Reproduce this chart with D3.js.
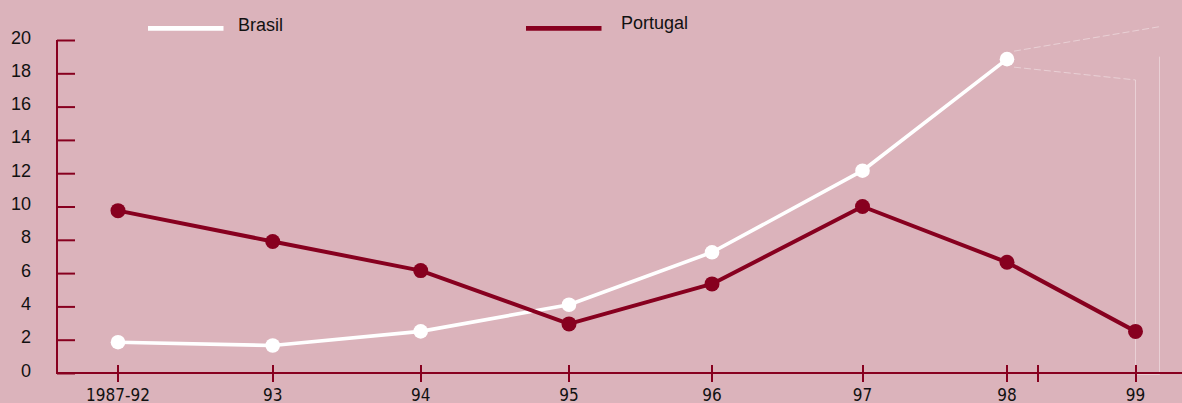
<!DOCTYPE html>
<html>
<head>
<meta charset="utf-8">
<script src="https://cdn.jsdelivr.net/npm/d3@7/dist/d3.min.js"></script>
<style>
  html, body { margin: 0; padding: 0; background: #dbb3bb; }
  svg { display: block; }
</style>
</head>
<body>
<svg id="chart" width="1182" height="403"></svg>
<script>
// Annual growth, Brasil vs Portugal
const categories = ["1987-92", "93", "94", "95", "96", "97", "98", "99"];
const brasil   = [1.85, 1.65, 2.5, 4.1, 7.25, 12.15, 18.85];
const portugal = [9.75, 7.9, 6.15, 2.95, 5.35, 10.0, 6.65, 2.5];
const yTicks = [0, 2, 4, 6, 8, 10, 12, 14, 16, 18, 20];

const W = 1182, H = 403;
const dark = "#87001f";
const bg = "#dbb3bb";
const svg = d3.select("#chart");

svg.append("rect").attr("width", W).attr("height", H).attr("fill", bg);

// x: category slots are not evenly spaced on the axis
const x = d3.scaleLinear()
  .domain(d3.range(categories.length))
  .range([118, 272.7, 420.7, 569, 712, 862.5, 1007, 1135.5]);
const y = d3.scaleLinear().domain([0, 20]).range([373, 40]);

// callout frame pointing out of the last Brasil point
const cg = svg.append("g").attr("fill", "none")
  .attr("stroke", "rgba(255,255,255,0.38)").attr("stroke-width", 1);
const px = x(brasil.length - 1), py = y(brasil[brasil.length - 1]);
const fx1 = x(7), fx2 = x(7) + 24;
cg.append("line").attr("x1", px + 7).attr("y1", py - 8)
  .attr("x2", fx2).attr("y2", y(20.8)).attr("stroke-dasharray", "7,3");
cg.append("line").attr("x1", px + 7).attr("y1", py + 8)
  .attr("x2", fx1).attr("y2", y(17.6)).attr("stroke-dasharray", "7,3");
cg.append("line").attr("x1", fx1).attr("y1", y(17.6)).attr("x2", fx1).attr("y2", y(0) + 1.5);
cg.append("line").attr("x1", fx2).attr("y1", y(19)).attr("x2", fx2).attr("y2", y(0) + 1.5);
cg.append("line").attr("x1", fx1).attr("y1", y(0) + 1.5).attr("x2", fx2).attr("y2", y(0) + 1.5);

// y axis
const yAxis = d3.axisRight(y).tickValues(yTicks).tickSize(18).tickFormat("");
const yg = svg.append("g").attr("transform", "translate(57,0)").call(yAxis);
yg.select(".domain").attr("stroke", dark).attr("stroke-width", 2).attr("d", `M0,${y(20)}V${y(0)}`);
yg.selectAll(".tick line").attr("stroke", dark).attr("stroke-width", 2);

svg.append("g").selectAll("text").data(yTicks).join("text")
  .attr("x", 31).attr("y", d => y(d) + 3.5)
  .attr("text-anchor", "end")
  .attr("font-family", "Liberation Sans, Arial, sans-serif")
  .attr("font-size", 18).attr("fill", "#111")
  .text(d => d);

// x axis
const xg = svg.append("g");
xg.append("line").attr("x1", 56).attr("x2", W).attr("y1", y(0)).attr("y2", y(0))
  .attr("stroke", dark).attr("stroke-width", 2);
const xTickPos = d3.range(categories.length).concat([6.24]);
xg.selectAll("line.tk").data(xTickPos).join("line").attr("class", "tk")
  .attr("x1", d => Math.round(x(d))).attr("x2", d => Math.round(x(d)))
  .attr("y1", y(0) - 8).attr("y2", y(0) + 9)
  .attr("stroke", dark).attr("stroke-width", 2);
xg.selectAll("text").data(categories).join("text")
  .attr("x", (d, i) => x(i)).attr("y", 400.5)
  .attr("text-anchor", "middle")
  .attr("font-family", "DejaVu Sans Condensed, DejaVu Sans, sans-serif")
  .attr("font-stretch", "condensed")
  .attr("font-size", 17).attr("fill", "#111")
  .text(d => d);

// series
const line = d3.line().x((d, i) => x(i)).y(d => y(d));
function drawSeries(vals, color, width, r) {
  svg.append("path").datum(vals).attr("d", line)
    .attr("fill", "none").attr("stroke", color).attr("stroke-width", width)
    .attr("stroke-linejoin", "round");
  svg.append("g").selectAll("circle").data(vals).join("circle")
    .attr("cx", (d, i) => x(i)).attr("cy", d => y(d)).attr("r", r)
    .attr("fill", color);
}
drawSeries(brasil, "#ffffff", 3.6, 7.3);
drawSeries(portugal, dark, 4, 7.5);

// legend
const legend = [
  { name: "Brasil", color: "#ffffff", x1: 148, x2: 223.5, tx: 238, ty: 31 },
  { name: "Portugal", color: dark, x1: 526, x2: 601.5, tx: 621, ty: 29.3 }
];
const lg = svg.append("g");
lg.selectAll("line").data(legend).join("line")
  .attr("x1", d => d.x1).attr("x2", d => d.x2).attr("y1", 28.4).attr("y2", 28.4)
  .attr("stroke", d => d.color).attr("stroke-width", 4.7);
lg.selectAll("text").data(legend).join("text")
  .attr("x", d => d.tx).attr("y", d => d.ty)
  .attr("font-family", "Liberation Sans, Arial, sans-serif")
  .attr("font-size", 18).attr("fill", "#111")
  .text(d => d.name);
</script>
</body>
</html>
